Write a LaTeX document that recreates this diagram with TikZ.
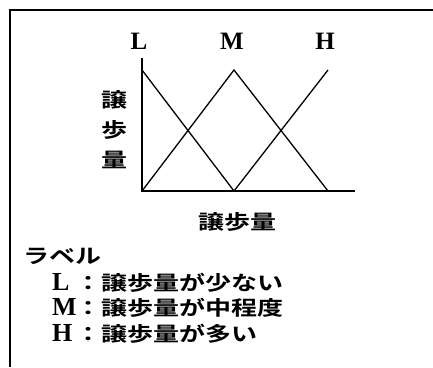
\documentclass[tikz,border=0pt]{standalone}
\usepackage{fontspec}
\setmainfont{Liberation Serif}
\newfontfamily\cjk{Noto Sans CJK JP}[BoldFont={* Bold}]
\newcommand{\wj}[1]{\scalebox{1.3}[1]{\cjk\bfseries #1}}
\newcommand{\lat}[1]{\makebox[23pt][l]{\fontsize{26}{26}\selectfont\bfseries #1}}
\begin{document}
\begin{tikzpicture}[x=1pt,y=-1pt,
  frameline/.style={line width=1.5pt},
  curve/.style={line width=1.3pt, line join=miter},
  axis/.style={line width=1.3pt},
  toplabel/.style={font=\fontsize{25}{25}\selectfont\bfseries, anchor=base, inner sep=0pt},
  jtext/.style={font=\fontsize{20}{20}\selectfont, inner sep=0pt},
  legline/.style={font=\fontsize{20}{20}\selectfont, anchor=base west, inner sep=0pt}]
\useasboundingbox (0,0) rectangle (433,367);
\fill[white] (0,0) rectangle (433,367);
% frame
\coordinate (FL) at (10,367);
\coordinate (FC) at (10,10);
\coordinate (FR) at (433,10);
\draw[frameline] (FL) -- (FC) -- (FR);
% axes
\coordinate (O) at (142,191);
\coordinate (Ytop) at (142,58);
\coordinate (Xend) at (355,191);
\draw[axis] (Ytop) -- (O) -- (Xend);
% membership functions
\coordinate (Ltop) at (142,70);
\coordinate (Mtop) at (234,70);
\coordinate (Htop) at (328,70);
\coordinate (Mbot) at (234,191);
\coordinate (Hbot) at (328,191);
\draw[curve] (Ltop) -- (Mbot);
\draw[curve] (O) -- (Mtop) -- (Hbot);
\draw[curve] (Mbot) -- (Htop);
% top labels
\node[toplabel] (lL) at (139,49) {L};
\node[toplabel] (lM) at (232,49) {M};
\node[toplabel] (lH) at (325,49) {H};
% axis labels
\node[jtext, align=center, anchor=center, font=\fontsize{20}{30}\selectfont] (ylab) at (114,130) {\wj{譲}\\\wj{歩}\\\wj{量}};
\node[jtext, anchor=base] (xlab) at (237,229) {\wj{譲歩量}};
% legend
\node[jtext, anchor=base west] (lab) at (23,263) {\wj{ラベル}};
\node[legline] (legL) at (52,290) {\lat{L}\wj{：譲歩量が少ない}};
\node[legline] (legM) at (52,315) {\lat{M}\wj{：譲歩量が中程度}};
\node[legline] (legH) at (52,341) {\lat{H}\wj{：譲歩量が多い}};
\end{tikzpicture}
\end{document}
